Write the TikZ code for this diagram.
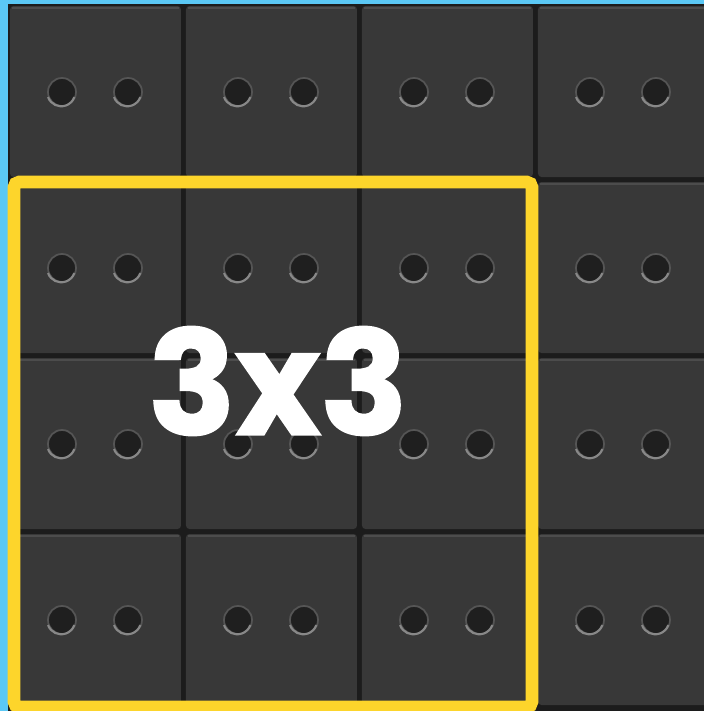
\documentclass[tikz,border=0pt]{standalone}
\usepackage{fontspec}
\newfontfamily\labelfont[BoldFeatures={FakeBold=1.6}]{Poppins}
\usetikzlibrary{positioning}
\definecolor{skyblue}{HTML}{5BC8F5}
\definecolor{gapdark}{HTML}{1C1C1C}
\definecolor{tilegray}{HTML}{383838}
\definecolor{tilelight}{HTML}{4C4C4C}
\definecolor{holedark}{HTML}{1F1F1F}
\definecolor{holerim}{HTML}{555555}
\definecolor{frameyellow}{HTML}{FDD52B}

\begin{document}
\begin{tikzpicture}[x=0.01cm, y=-0.01cm,
  tile/.style={fill=tilegray, rounded corners=1pt},
  edge/.style={draw=tilelight, line width=0.6pt},
  hole/.style={circle, fill=holedark, draw=holerim, line width=0.5pt,
               minimum size=0.28cm, inner sep=0pt},
  frame/.style={draw=frameyellow, line width=3.6pt, rounded corners=1.5pt},
  ann/.style={font=\labelfont\bfseries\fontsize{41}{41}\selectfont, text=white}]
% background and panel
\fill[skyblue] (0,0) rectangle (704,711);
\useasboundingbox (0,0) rectangle (704,711);
\fill[gapdark] (8,4) rectangle (704,711);
% tiles with two holes each
\foreach \col in {0,...,3}{
  \foreach \row in {0,...,3}{
    \fill[tile] (10+176*\col, 6+176*\row) rectangle ++(171,171);
    \draw[edge] (12+176*\col, 8+176*\row) -- ++(167,0);
    \node[hole] (l\col\row) at (62+176*\col, 92+176*\row) {};
    \node[hole] (r\col\row) at (128+176*\col, 92+176*\row) {};
    \draw[holerim!70!white, line width=0.6pt]
      (l\col\row.200) arc[start angle=200, end angle=340, radius=0.14cm];
    \draw[holerim!70!white, line width=0.6pt]
      (r\col\row.200) arc[start angle=200, end angle=340, radius=0.14cm];
  }
}
% 3x3 selection
\draw[frame] (14,182) rectangle (532,707);
\node[ann] (label) at (278,381) {3x3};
\end{tikzpicture}
\end{document}
